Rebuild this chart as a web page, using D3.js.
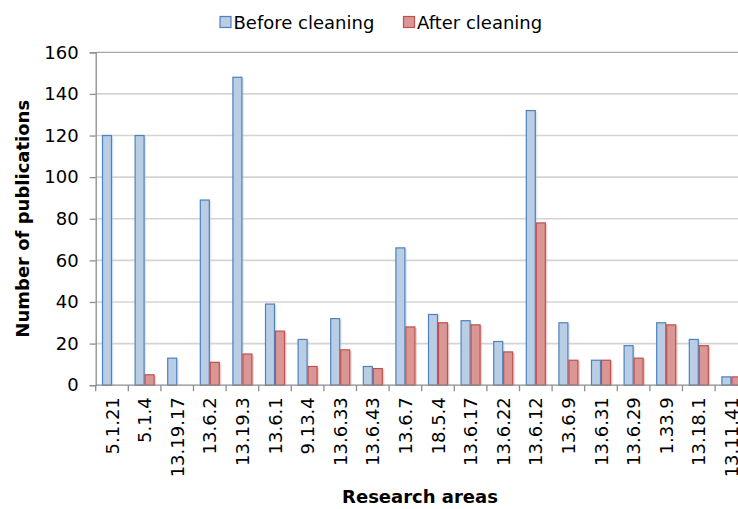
<!DOCTYPE html>
<html>
<head>
<meta charset="utf-8">
<script src="https://cdn.jsdelivr.net/npm/d3@7"></script>
<style>
  html, body { margin: 0; padding: 0; background: #fff; overflow: hidden; }
  svg { display: block; font-family: "DejaVu Sans", sans-serif; }
</style>
</head>
<body>
<svg id="chart" width="738" height="509"></svg>
<script>
// Research areas on the x axis
const categories = ["5.1.21", "5.1.4", "13.19.17", "13.6.2", "13.19.3", "13.6.1", "9.13.4",
  "13.6.33", "13.6.43", "13.6.7", "18.5.4", "13.6.17", "13.6.22", "13.6.12", "13.6.9",
  "13.6.31", "13.6.29", "1.33.9", "13.18.1", "13.11.41"];

// Publication counts per area
const beforeCleaning = [120, 120, 13, 89, 148, 39, 22, 32, 9, 66, 34, 31, 21, 132, 30, 12, 19, 30, 22, 4];
const afterCleaning  = [0, 5, 0, 11, 15, 26, 9, 17, 8, 28, 30, 29, 16, 78, 12, 12, 13, 29, 19, 4];

const seriesNames = ["Before cleaning", "After cleaning"];
const yTicks = [0, 20, 40, 60, 80, 100, 120, 140, 160];

const series = [
  { name: seriesNames[0], values: beforeCleaning, fill: "#b9cde5", stroke: "#4f81bd" },
  { name: seriesNames[1], values: afterCleaning,  fill: "#d99694", stroke: "#c0504d" }
];

const svg = d3.select("#chart");
// The plot runs a little past the right edge of the canvas
const plot = { left: 95.7, right: 747.7, top: 52.3, bottom: 385.2 };

const x = d3.scaleBand().domain(categories).range([plot.left, plot.right]).paddingInner(0).paddingOuter(0);
const y = d3.scaleLinear().domain([0, 160]).range([plot.bottom, plot.top]);
const barW = 10;
const xInner = d3.scaleBand().domain(seriesNames).range([0, barW * 2]);

// Horizontal gridlines
svg.append("g")
  .selectAll("line")
  .data(yTicks.filter(d => d > 0))
  .join("line")
  .attr("x1", plot.left).attr("x2", plot.right)
  .attr("y1", d => y(d)).attr("y2", d => y(d))
  .attr("stroke", d => d === 160 ? "#a6a6a6" : "#d4d4d4")
  .attr("stroke-width", d => d === 160 ? 1.3 : 1.6);

// Bars
const groupOffset = (x.bandwidth() - barW * 2) / 2;
const gBars = svg.append("g");
series.forEach(s => {
  const g = gBars.append("g");
  // soft shadow to the right
  g.selectAll("rect.shadow")
    .data(categories.map((c, i) => ({ c, v: s.values[i] })).filter(d => d.v > 0))
    .join("rect")
    .attr("class", "shadow")
    .attr("x", d => x(d.c) + groupOffset + xInner(s.name) + 1.5)
    .attr("y", d => y(d.v) + 1)
    .attr("width", barW)
    .attr("height", d => y(0) - y(d.v) - 1)
    .attr("fill", s.fill)
    .attr("opacity", 0.45);
  g.selectAll("rect.bar")
    .data(categories.map((c, i) => ({ c, v: s.values[i] })).filter(d => d.v > 0))
    .join("rect")
    .attr("class", "bar")
    .attr("x", d => x(d.c) + groupOffset + xInner(s.name) + 0.5)
    .attr("y", d => y(d.v))
    .attr("width", barW - 1)
    .attr("height", d => y(0) - y(d.v))
    .attr("fill", s.fill)
    .attr("stroke", s.stroke)
    .attr("stroke-width", 1.2);
});

// Y axis
const yAxis = svg.append("g")
  .attr("transform", `translate(${plot.left},0)`)
  .call(d3.axisLeft(y).tickValues(yTicks).tickSize(6).tickPadding(11).tickFormat(d3.format("d")));
yAxis.select(".domain").attr("stroke", "#8c8c8c").attr("stroke-width", 1.3);
yAxis.selectAll(".tick line").attr("stroke", "#8c8c8c").attr("stroke-width", 1.3);
yAxis.selectAll(".tick text").attr("font-size", 18).attr("fill", "#000").attr("font-family", "DejaVu Sans, sans-serif");

// X axis with ticks between categories
const xAxisG = svg.append("g").attr("transform", `translate(0,${plot.bottom})`);
xAxisG.append("line")
  .attr("x1", plot.left).attr("x2", plot.right)
  .attr("stroke", "#8c8c8c").attr("stroke-width", 1.3);
xAxisG.selectAll("line.tick")
  .data(categories.concat([null]))
  .join("line")
  .attr("class", "tick")
  .attr("x1", (d, i) => i < categories.length ? x(d) : plot.right)
  .attr("x2", (d, i) => i < categories.length ? x(d) : plot.right)
  .attr("y1", 0).attr("y2", 6)
  .attr("stroke", "#8c8c8c").attr("stroke-width", 1.3);
xAxisG.selectAll("text")
  .data(categories)
  .join("text")
  .attr("transform", d => `translate(${x(d) + x.bandwidth() / 2 + 6.5},${12}) rotate(-90)`)
  .attr("text-anchor", "end")
  .attr("font-size", 18)
  .attr("fill", "#000")
  .text(d => d);

// Axis titles
svg.append("text")
  .attr("x", 420).attr("y", 503)
  .attr("text-anchor", "middle")
  .attr("font-size", 18).attr("font-weight", "bold")
  .text("Research areas");
svg.append("text")
  .attr("transform", `translate(29,${(plot.top + plot.bottom) / 2}) rotate(-90)`)
  .attr("text-anchor", "middle")
  .attr("font-size", 18).attr("font-weight", "bold")
  .text("Number of publications");

// Legend
const legendItems = [{ s: series[0], x: 219.5 }, { s: series[1], x: 403 }];
const legend = svg.append("g");
legendItems.forEach(it => {
  legend.append("rect")
    .attr("x", it.x + 0.5).attr("y", 16.5)
    .attr("width", 11).attr("height", 11)
    .attr("fill", it.s.fill).attr("stroke", it.s.stroke).attr("stroke-width", 1.2);
  legend.append("text")
    .attr("x", it.x + 14).attr("y", 28.5)
    .attr("font-size", 18)
    .text(it.s.name);
});
</script>
</body>
</html>
